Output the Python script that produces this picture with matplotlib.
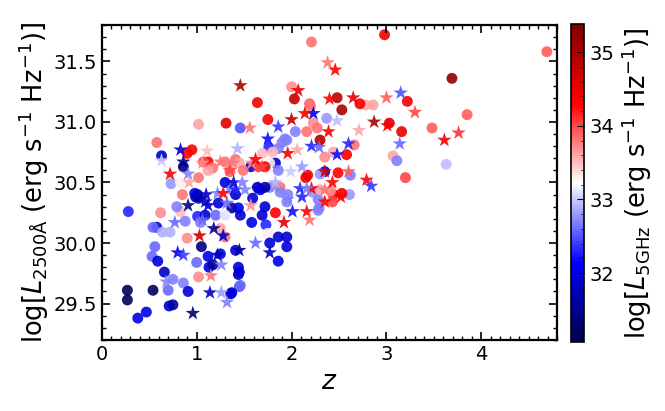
import matplotlib
matplotlib.use("Agg")
import matplotlib.pyplot as plt
from matplotlib.ticker import MultipleLocator

# ---- circles: redshift, log L2500, log L5GHz ----
circ_z = [4.69, 2.98, 3.69, 2.21, 3.85, 3.48, 3.63, 3.20, 3.22, 3.03, 3.16, 3.07, 3.11,
          2.78, 2.86, 2.72, 2.48, 2.53, 2.00, 2.03, 2.19, 2.37, 2.04, 2.23, 2.30, 2.66,
          2.58, 2.44, 2.35, 2.49, 2.62, 2.15, 2.44, 2.61, 2.29, 1.95, 1.64, 1.75, 1.31,
          1.02, 1.46, 1.95, 0.58, 0.95, 0.90, 0.63, 0.86, 1.12, 1.53, 1.76, 1.86, 1.83,
          1.57, 1.86, 1.30, 1.17, 1.12, 0.73, 0.85, 1.02, 0.99, 0.28, 0.62, 0.83, 0.58,
          0.54, 0.64, 0.72, 1.01, 0.88, 0.90, 1.05, 1.30, 0.56, 0.53, 0.59, 1.00, 0.66,
          0.75, 0.86, 1.02, 1.13, 1.44, 1.44, 1.45, 0.27, 0.27, 0.54, 0.70, 0.91, 1.36,
          0.71, 0.75, 0.47, 0.38, 1.72, 1.83, 1.86, 1.95, 1.95, 1.86, 1.58, 1.73, 1.75,
          1.77, 1.41, 1.45, 1.46, 1.37, 2.28, 1.12, 1.17, 1.04, 1.25, 1.25, 1.01, 2.20,
          2.16, 2.27, 1.93, 1.69, 1.41, 1.45, 1.80, 1.77, 2.17, 2.30, 1.49, 1.35, 1.67,
          1.77, 1.88, 2.30, 1.64, 1.96, 2.22, 2.41,
          1.02, 0.83, 1.30, 0.98, 1.37, 1.41, 1.59, 1.23, 1.37, 1.44, 1.09, 1.20, 1.30,
          1.46, 1.69, 0.79, 1.90, 2.35, 1.65, 1.72, 1.72, 1.88, 2.53, 2.43, 2.28, 2.30,
          1.07]
circ_L = [31.58, 31.72, 31.36, 31.66, 31.06, 30.95, 30.65, 30.54, 31.17, 30.99, 30.92, 30.72, 30.68,
          31.14, 31.14, 31.15, 31.20, 31.10, 31.29, 31.19, 31.15, 31.03, 30.92, 30.99, 30.85, 30.81,
          30.73, 30.75, 30.59, 30.58, 30.56, 30.54, 30.40, 30.40, 30.29, 30.34, 31.16, 31.02, 30.99,
          30.98, 30.95, 30.85, 30.83, 30.77, 30.74, 30.72, 30.63, 30.67, 30.78, 30.79, 30.78, 30.66,
          30.63, 30.60, 30.67, 30.62, 30.60, 30.49, 30.40, 30.37, 30.38, 30.26, 30.25, 30.26, 30.13,
          30.13, 30.09, 30.09, 30.22, 30.18, 30.04, 29.97, 30.05, 29.97, 29.89, 29.85, 29.84, 29.76,
          29.70, 29.67, 29.72, 29.80, 29.80, 29.74, 29.64, 29.61, 29.53, 29.61, 29.61, 29.60, 29.58,
          29.48, 29.49, 29.43, 29.38, 30.30, 30.25, 30.05, 30.05, 29.97, 29.85, 30.17, 30.15, 30.08,
          30.00, 29.94, 29.76, 29.65, 29.59, 30.27, 29.89, 29.82, 30.17, 30.12, 29.91, 30.40, 31.13,
          30.92, 30.95, 30.86, 30.74, 30.69, 30.66, 30.75, 30.66, 30.56, 30.57, 30.60, 30.59, 30.44,
          30.46, 30.46, 30.46, 30.46, 30.40, 30.42, 30.43,
          30.54, 30.50, 30.50, 30.41, 30.44, 30.40, 30.37, 30.33, 30.29, 30.29, 30.23, 30.23, 30.23,
          30.23, 30.23, 30.30, 30.83, 30.71, 30.63, 30.63, 30.46, 30.42, 30.41, 30.34, 30.36, 30.44,
          30.67]
circ_R = [33.9, 34.4, 35.2, 33.8, 33.9, 33.9, 32.95, 34.0, 34.4, 34.5, 34.5, 33.6, 32.7,
          33.6, 33.6, 34.4, 34.9, 35.0, 33.7, 34.8, 33.9, 32.8, 32.7, 33.7, 34.9, 33.8,
          34.4, 33.6, 31.9, 34.3, 32.7, 34.4, 34.3, 32.8, 32.7, 32.7, 34.4, 34.4, 34.6,
          33.6, 32.5, 32.7, 33.8, 34.4, 34.3, 31.8, 31.4, 34.3, 33.2, 32.3, 32.7, 31.9,
          32.0, 32.7, 33.8, 33.8, 33.6, 32.8, 33.8, 31.6, 31.6, 32.3, 33.7, 33.5, 31.9,
          32.6, 32.9, 32.9, 32.3, 32.7, 33.7, 31.4, 33.8, 32.6, 32.6, 31.9, 32.6, 31.8,
          32.7, 32.7, 33.7, 32.0, 31.9, 31.9, 32.5, 31.15, 31.15, 31.2, 32.6, 31.9, 31.8,
          31.9, 31.6, 32.0, 32.0, 31.9, 34.3, 31.9, 31.9, 31.9, 32.0, 32.0, 32.3, 33.3,
          31.9, 31.9, 31.9, 32.6, 31.9, 32.7, 32.0, 31.6, 32.7, 33.6, 31.9, 31.5, 33.8,
          33.8, 33.8, 32.7, 33.5, 33.8, 33.6, 33.5, 33.3, 34.4, 32.8, 33.8, 33.9, 32.0,
          32.7, 33.8, 33.2, 31.6, 32.7, 32.8, 33.7,
          33.8, 33.3, 31.9, 31.9, 32.7, 31.8, 31.9, 31.9, 31.5, 32.0, 31.9, 32.6, 33.1,
          31.9, 31.9, 32.7, 32.7, 33.7, 34.1, 34.4, 31.6, 32.7, 34.4, 34.0, 32.7, 33.6,
          34.0]

# ---- stars ----
star_z = [2.38, 2.46, 3.76, 3.61, 3.15, 3.30, 3.00, 2.87, 3.01, 3.14, 2.65, 2.40, 2.07,
          2.23, 2.48, 2.00, 2.39, 2.71, 2.21, 2.29, 2.60, 1.96, 2.06, 2.48, 2.11, 1.99,
          2.35, 2.60, 2.79, 2.84, 2.43, 2.52, 2.09, 2.21, 2.35, 2.01, 2.16, 1.46, 1.56,
          1.86, 1.75, 0.83, 1.11, 0.86, 0.72, 0.91, 1.43, 1.69, 1.38, 0.92, 0.91, 1.09,
          0.77, 1.06, 1.03, 1.18, 0.80, 0.86, 0.68, 1.15, 1.26, 1.14, 1.26, 0.96, 1.92,
          1.77, 1.62, 2.19, 1.57, 1.45, 1.22, 1.32, 1.28, 1.10, 1.22, 1.28, 1.06, 1.25,
          0.63, 2.14, 1.58, 1.41, 1.51, 2.16, 2.11,
          1.35, 1.62, 1.39, 1.48, 1.12, 1.32, 1.83, 1.65, 1.96, 2.35]
star_L = [31.49, 31.43, 30.91, 30.85, 31.24, 31.08, 31.20, 31.00, 30.97, 30.82, 31.20, 31.19, 31.26,
          31.07, 31.01, 31.02, 30.92, 30.93, 30.80, 30.79, 30.82, 30.74, 30.77, 30.73, 30.63, 30.59,
          30.59, 30.59, 30.52, 30.47, 30.50, 30.38, 30.45, 30.45, 30.44, 30.26, 30.26, 31.30, 30.95,
          30.96, 30.86, 30.77, 30.76, 30.67, 30.57, 30.57, 30.78, 30.63, 30.66, 30.50, 30.31, 30.34,
          30.17, 30.19, 30.06, 30.12, 29.92, 29.90, 29.68, 29.73, 29.82, 29.59, 29.59, 29.42, 30.17,
          29.92, 30.00, 30.19, 30.31, 29.94, 29.90, 29.51, 30.06, 30.40, 30.41, 30.41, 30.66, 30.67,
          30.68, 31.07, 30.66, 30.44, 30.44, 30.45, 30.38,
          30.60, 30.69, 30.50, 30.50, 30.31, 30.33, 30.50, 30.45, 30.36, 30.34]
star_R = [33.8, 34.3, 34.1, 34.4, 32.5, 34.0, 33.9, 35.0, 34.4, 32.6, 34.5, 34.3, 34.5,
          32.0, 32.95, 34.8, 34.3, 33.6, 32.3, 32.6, 32.3, 34.4, 33.6, 32.2, 32.8, 33.0,
          34.7, 33.9, 34.3, 32.4, 34.3, 34.3, 32.3, 34.3, 33.8, 32.2, 34.3, 35.0, 33.8,
          32.4, 32.2, 31.9, 33.5, 31.5, 34.4, 32.7, 32.9, 34.0, 33.8, 33.6, 31.4, 31.8,
          32.6, 32.6, 34.7, 31.5, 32.0, 32.4, 32.7, 33.8, 32.7, 31.8, 32.8, 31.3, 34.5,
          31.8, 32.6, 33.8, 33.7, 31.6, 31.8, 32.7, 31.8, 31.8, 32.7, 34.3, 33.7, 33.8,
          33.0, 34.4, 33.7, 32.3, 32.7, 32.7, 32.3,
          34.0, 34.4, 32.0, 32.7, 31.9, 32.6, 32.9, 32.0, 32.7, 34.3]

vmin, vmax = 31.07, 35.38

fig = plt.figure(figsize=(6.65, 4.11), dpi=100)
ax = fig.add_axes([0.153, 0.173, 0.685, 0.766])
cax = fig.add_axes([0.859, 0.169, 0.0195, 0.772])

sc = ax.scatter(circ_z, circ_L, c=circ_R, cmap='seismic', vmin=vmin, vmax=vmax,
                marker='o', s=62, alpha=0.9, edgecolors='none')
ax.scatter(star_z, star_L, c=star_R, cmap='seismic', vmin=vmin, vmax=vmax,
           marker='*', s=120, alpha=0.9, edgecolors='none')

ax.set_xlim(0, 4.8)
ax.set_ylim(29.2, 31.8)
ax.xaxis.set_major_locator(MultipleLocator(1))
ax.xaxis.set_minor_locator(MultipleLocator(0.1))
ax.yaxis.set_major_locator(MultipleLocator(0.5))
ax.yaxis.set_minor_locator(MultipleLocator(0.1))
ax.tick_params(which='both', direction='in', top=True, right=True, labelsize=14)
ax.tick_params(which='major', length=6, width=1.2)
ax.tick_params(which='minor', length=3, width=1)
for sp in ax.spines.values():
    sp.set_linewidth(1.6)
ax.set_xlabel(r'$z$', fontsize=19)
ax.set_ylabel(r'log[$L_{2500\mathrm{\AA}}$ (erg s$^{-1}$ Hz$^{-1}$)]', fontsize=18.5, labelpad=2)

cb = fig.colorbar(sc, cax=cax)
cb.solids.set_alpha(1)
cb.ax.yaxis.set_major_locator(MultipleLocator(1))
cb.ax.yaxis.set_minor_locator(MultipleLocator(0.2))
cb.ax.tick_params(which='both', direction='in', labelsize=14)
cb.ax.tick_params(which='major', length=5)
cb.ax.tick_params(which='minor', length=2.5)
cb.outline.set_linewidth(1.2)
cb.set_label(r'log[$L_{\rm 5GHz}$ (erg s$^{-1}$ Hz$^{-1}$)]', fontsize=18.5)

fig.savefig('out.png', dpi=100)
